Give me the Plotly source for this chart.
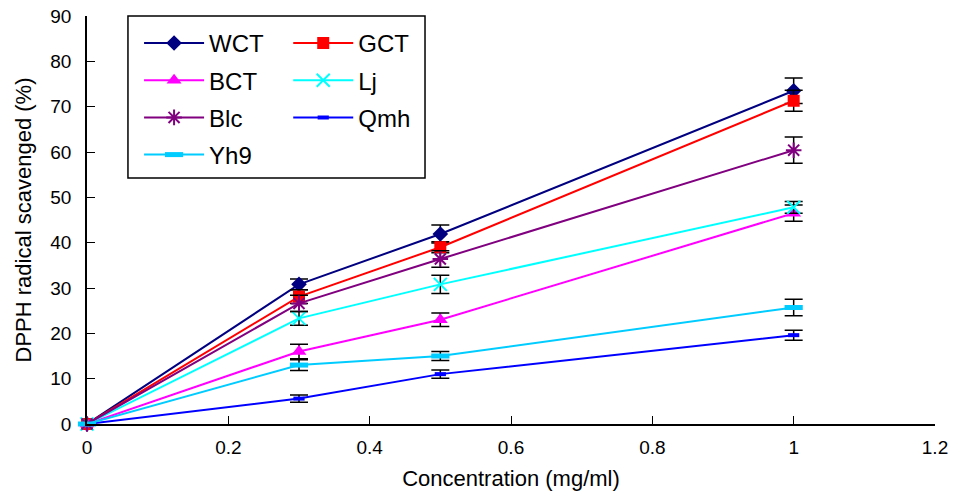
import plotly.graph_objects as go

conc = [0, 0.3, 0.5, 1.0]

series = ["WCT", "GCT", "BCT", "Lj", "Blc", "Qmh", "Yh9"]
wct = [0, 30.8, 41.9, 73.5]
gct = [0, 28.1, 39.0, 71.3]
bct = [0, 16.0, 23.0, 46.5]
lj = [0, 23.3, 30.8, 47.8]
blc = [0, 26.6, 36.4, 60.4]
qmh = [0, 5.6, 11.0, 19.6]
yh9 = [0, 13.0, 15.0, 25.7]

wct_err = [None, 1.2, 2.0, 2.8]
gct_err = [None, 1.5, 1.2, 2.3]
bct_err = [None, 1.6, 1.5, 1.8]
lj_err = [None, 1.5, 2.0, 1.3]
blc_err = [None, 1.8, 1.8, 2.9]
qmh_err = [None, 0.8, 0.9, 1.1]
yh9_err = [None, 1.2, 1.0, 1.8]

values = [wct, gct, bct, lj, blc, qmh, yh9]
errors = [wct_err, gct_err, bct_err, lj_err, blc_err, qmh_err, yh9_err]

colors = ["#000080", "#FF0000", "#FF00FF", "#00FFFF", "#800080", "#0000FF", "#00CCFF"]
symbols = ["diamond", "square", "triangle-up", "x-thin", "asterisk", "line-ew", "line-ew"]
sizes = [12, 12, 13, 13, 13, 8, 13]
legends = ["legend", "legend2", "legend", "legend2", "legend", "legend2", "legend"]

fig = go.Figure()
for name, y, err, c, s, sz, lg in zip(series, values, errors, colors, symbols, sizes, legends):
    if s in ("x-thin", "asterisk"):
        mline = dict(color=c, width=2)
    elif s == "line-ew":
        mline = dict(color=c, width=4 if name == "Qmh" else 5)
    else:
        mline = dict(color=c, width=0)
    fig.add_trace(go.Scatter(
        x=conc, y=y, name=name, mode="lines+markers",
        line=dict(color=c, width=2),
        marker=dict(symbol=s, size=sz, color=c, line=mline),
        error_y=dict(type="data", array=err, visible=True, color="black", thickness=1.5, width=9),
        cliponaxis=False, legend=lg, legendgroup=name,
    ))

legfont = dict(family="Liberation Sans, Arial, sans-serif", size=24, color="black")
fig.update_layout(
    width=954, height=494,
    margin=dict(l=87, r=19, t=16, b=70),
    paper_bgcolor="white", plot_bgcolor="white",
    font=dict(family="Liberation Sans, Arial, sans-serif", color="black"),
    showlegend=True,
    legend=dict(x=0.0614, y=0.988, xanchor="left", yanchor="top", bgcolor="rgba(0,0,0,0)",
                font=legfont, tracegroupgap=3, traceorder="grouped", itemwidth=60),
    legend2=dict(x=0.2373, y=0.988, xanchor="left", yanchor="top", bgcolor="rgba(0,0,0,0)",
                 font=legfont, tracegroupgap=3, traceorder="grouped", itemwidth=60),
    shapes=[dict(type="rect", xref="paper", yref="paper", x0=0.0483, x1=0.3986, y0=0.603, y1=1.0,
                 line=dict(color="black", width=1.5), fillcolor="rgba(0,0,0,0)")],
)
fig.update_xaxes(range=[0, 1.2], dtick=0.2, tick0=0, ticks="inside", ticklen=8, tickwidth=1,
                 tickcolor="black", showline=True, linecolor="black", linewidth=1.5,
                 showgrid=False, zeroline=False, tickfont=dict(size=19), automargin=False,
                 ticklabelstandoff=5,
                 title=dict(text="Concentration (mg/ml)", font=dict(size=22), standoff=14))
fig.update_yaxes(range=[0, 90], dtick=10, ticks="inside", ticklen=8, tickwidth=1,
                 tickcolor="black", showline=True, linecolor="black", linewidth=1.5,
                 showgrid=False, zeroline=False, tickfont=dict(size=19), automargin=False,
                 ticklabelstandoff=10,
                 title=dict(text="DPPH radical scavenged (%)", font=dict(size=22), standoff=13))

fig.write_html("out.html", config={"displayModeBar": False},
               post_script="document.body.style.margin='0';")
